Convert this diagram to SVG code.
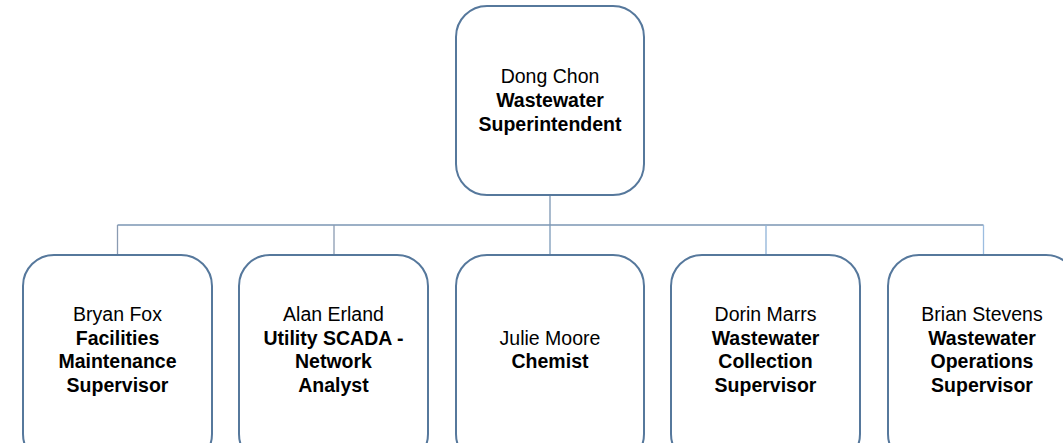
<svg xmlns="http://www.w3.org/2000/svg" width="1063" height="443" viewBox="0 0 1063 443">
<style>
.box{fill:#ffffff;stroke:#56789c;stroke-width:2}
.t{font-family:"Liberation Sans",Arial,sans-serif;font-size:19.5px;fill:#000;text-anchor:middle}
.b{font-weight:bold}
.c{fill:none;stroke-width:1.3}
</style>
<rect width="1063" height="443" fill="#ffffff"/>
<g id="connectors">
<path class="c" stroke="#7b96b3" d="M550,195 V225"/>
<path class="c" stroke="#7b96b3" d="M117.5,225 H983.5"/>
<path class="c" stroke="#8a9bb2" d="M117.5,225 V255"/>
<path class="c" stroke="#8a9bb2" d="M334,225 V255"/>
<path class="c" stroke="#7b9ab8" d="M550,225 V255"/>
<path class="c" stroke="#8fb3d8" d="M766,225 V255"/>
<path class="c" stroke="#9cbde0" d="M983.5,225 V255"/>
</g>
<g id="node-dong-chon">
<rect class="box" x="456" y="6" width="188" height="189" rx="31"/>
<text class="t" x="550" y="83">Dong Chon</text>
<text class="t b" x="550" y="107">Wastewater</text>
<text class="t b" x="550" y="131">Superintendent</text>
</g>
<g id="node-bryan-fox">
<rect class="box" x="23" y="255" width="189" height="210" rx="31"/>
<text class="t" x="117.5" y="321">Bryan Fox</text>
<text class="t b" x="117.5" y="344.5">Facilities</text>
<text class="t b" x="117.5" y="368">Maintenance</text>
<text class="t b" x="117.5" y="391.5">Supervisor</text>
</g>
<g id="node-alan-erland">
<rect class="box" x="239" y="255" width="189" height="210" rx="31"/>
<text class="t" x="333.5" y="321">Alan Erland</text>
<text class="t b" x="333.5" y="344.5">Utility SCADA -</text>
<text class="t b" x="333.5" y="368">Network</text>
<text class="t b" x="333.5" y="391.5">Analyst</text>
</g>
<g id="node-julie-moore">
<rect class="box" x="456" y="255" width="188" height="210" rx="31"/>
<text class="t" x="550" y="344.5">Julie Moore</text>
<text class="t b" x="550" y="368">Chemist</text>
</g>
<g id="node-dorin-marrs">
<rect class="box" x="671" y="255" width="189" height="210" rx="31"/>
<text class="t" x="765.5" y="321">Dorin Marrs</text>
<text class="t b" x="765.5" y="344.5">Wastewater</text>
<text class="t b" x="765.5" y="368">Collection</text>
<text class="t b" x="765.5" y="391.5">Supervisor</text>
</g>
<g id="node-brian-stevens">
<rect class="box" x="888" y="255" width="189" height="210" rx="31"/>
<text class="t" x="982" y="321">Brian Stevens</text>
<text class="t b" x="982" y="344.5">Wastewater</text>
<text class="t b" x="982" y="368">Operations</text>
<text class="t b" x="982" y="391.5">Supervisor</text>
</g>
</svg>
